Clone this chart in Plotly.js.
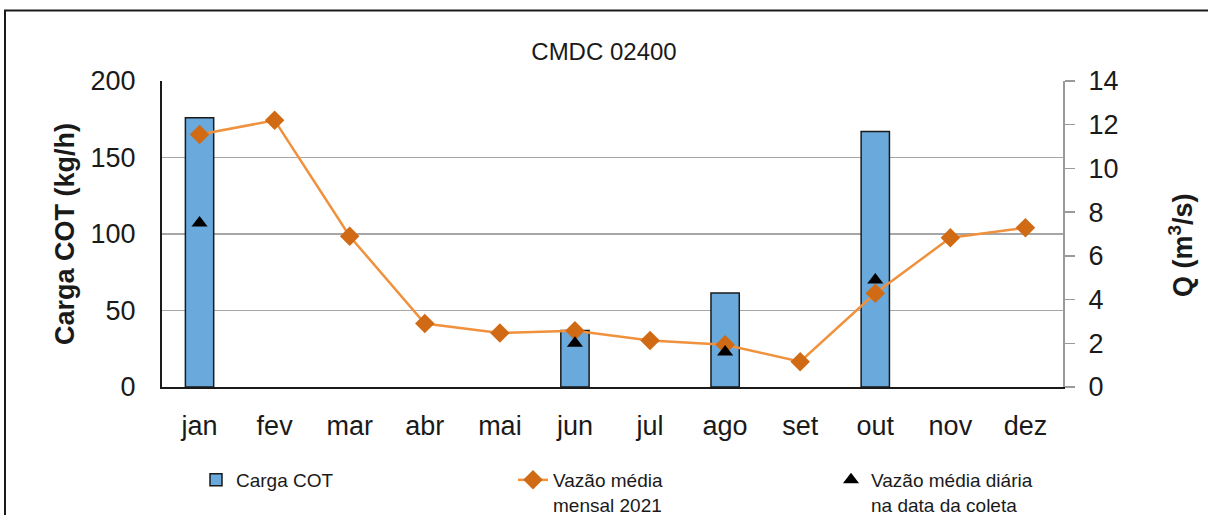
<!DOCTYPE html>
<html>
<head>
<meta charset="utf-8">
<script src="https://cdn.plot.ly/plotly-3.0.1.min.js"></script>
<style>html,body{margin:0;padding:0;background:#fff;}#chart{width:1208px;height:515px;}</style>
</head>
<body>
<div id="chart"></div>
<script>
const months = ["jan","fev","mar","abr","mai","jun","jul","ago","set","out","nov","dez"];
const cargaCOT = [176, null, null, null, null, 37, null, 61.5, null, 167, null, null];
const vazaoMensal = [11.55, 12.2, 6.9, 2.9, 2.47, 2.57, 2.13, 1.93, 1.16, 4.29, 6.83, 7.29];
const vazaoDiaria = [7.5, null, null, null, null, 2.0, null, 1.6, null, 4.9, null, null];
const leftTicks = [0, 50, 100, 150, 200];
const rightTicks = [0, 2, 4, 6, 8, 10, 12, 14];
const leftTitle = "<b>Carga COT (kg/h)</b>";
const rightTitle = "<b>Q (m<sup>3</sup>/s)</b>";

const FONT = "Liberation Sans, Arial, sans-serif";

const traces = [
  {
    type: "bar", name: "Carga COT", x: months, y: cargaCOT, yaxis: "y", legend: "legend",
    marker: {color: "#6aa9db", line: {color: "#1a1a1a", width: 1.5}}
  },
  {
    type: "scatter", mode: "lines+markers", name: "Vazão média<br>mensal 2021",
    x: months, y: vazaoMensal, yaxis: "y2", legend: "legend2",
    line: {color: "#f0913e", width: 2.5},
    marker: {symbol: "diamond", size: 15, color: "#d06a14"}
  },
  {
    type: "scatter", mode: "markers", name: "Vazão média diária<br>na data da coleta",
    x: months, y: vazaoDiaria, yaxis: "y2", legend: "legend3",
    marker: {symbol: "triangle-up", size: 14, color: "#000000"}
  }
];

function legendAt(textStartX) {
  return {
    orientation: "v", xref: "container", yref: "container",
    x: (textStartX - 41) / 1208, xanchor: "left", y: 1 - 461/515, yanchor: "top",
    font: {family: FONT, size: 19, color: "#1a1a1a"},
    valign: "top", bgcolor: "rgba(0,0,0,0)", borderwidth: 0
  };
}

const PL = 162, PR = 1063, PT = 80.7, PB = 387.3;
const px = x => (x - PL) / (PR - PL);
const py = y => (PB - y) / (PB - PT);

const layout = {
  width: 1208, height: 515,
  margin: {l: 162, r: 145, t: 81, b: 128, autoexpand: false},
  paper_bgcolor: "#ffffff", plot_bgcolor: "#ffffff",
  font: {family: FONT, color: "#1a1a1a", size: 20},
  title: {text: "CMDC 02400", font: {family: FONT, size: 24, color: "#1a1a1a"},
          x: 0.5, xanchor: "center", y: 1 - 52/515, yanchor: "middle", yref: "container"},
  bargap: 0.623,
  showlegend: true,
  legend: legendAt(237),
  legend2: legendAt(554),
  legend3: legendAt(872),
  xaxis: {
    type: "category", categoryorder: "array", categoryarray: months,
    range: [-0.5, months.length - 0.5],
    showline: true, linecolor: "#1a1a1a", linewidth: 2,
    showgrid: false, zeroline: false, ticks: "",
    tickfont: {family: FONT, size: 27, color: "#1a1a1a"},
    ticklabelstandoff: 14
  },
  yaxis: {
    range: [0, 200], tickvals: leftTicks, ticktext: leftTicks.map(String),
    showline: true, linecolor: "#1a1a1a", linewidth: 2,
    showgrid: true, gridcolor: "#a6a6a6", gridwidth: 1.5, zeroline: false, ticks: "",
    tickfont: {family: FONT, size: 27, color: "#1a1a1a"},
    ticklabelstandoff: 19
  },
  yaxis2: {
    range: [0, 14], tickvals: rightTicks, ticktext: rightTicks.map(String),
    overlaying: "y", side: "right",
    showline: true, linecolor: "#9a9a9a", linewidth: 2,
    showgrid: false, zeroline: false, ticks: "outside", ticklen: 10, tickcolor: "#9a9a9a", tickwidth: 1.5,
    tickfont: {family: FONT, size: 27, color: "#1a1a1a"},
    ticklabelstandoff: 8
  },
  annotations: [
    {text: leftTitle, xref: "paper", yref: "paper", x: px(65), y: py(234),
     xanchor: "center", yanchor: "middle", textangle: -90, showarrow: false,
     font: {family: FONT, size: 27, color: "#1a1a1a"}},
    {text: rightTitle, xref: "paper", yref: "paper", x: px(1181), y: py(245),
     xanchor: "center", yanchor: "middle", textangle: -90, showarrow: false,
     font: {family: FONT, size: 27, color: "#1a1a1a"}}
  ],
  shapes: [
    {type: "rect", xref: "paper", yref: "paper",
     x0: px(5), x1: px(1240), y0: py(560), y1: py(10),
     line: {color: "#1a1a1a", width: 2}, fillcolor: "rgba(0,0,0,0)", layer: "below"}
  ]
};

Plotly.newPlot("chart", traces, layout, {displayModeBar: false, staticPlot: true});
</script>
</body>
</html>
